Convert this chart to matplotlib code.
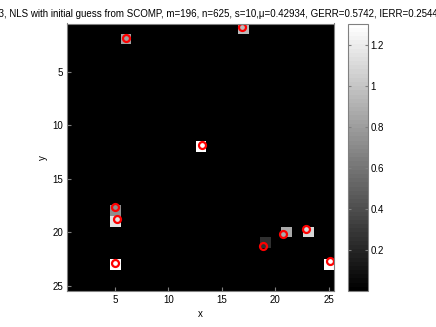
import numpy as np
import matplotlib
matplotlib.use("Agg")
import matplotlib.pyplot as plt
from matplotlib.colors import ListedColormap

plt.rcParams['font.family'] = ['Liberation Sans', 'DejaVu Sans']

# Recovered image cells (column, row, value)
cell_cols = [6, 17, 13, 5, 5, 5, 19, 21, 23, 25]
cell_rows = [2, 1, 12, 18, 19, 23, 21, 20, 20, 23]
cell_vals = [0.82, 0.95, 1.30, 0.73, 1.15, 1.30, 0.26, 0.86, 1.10, 1.30]

# True source positions (red circles)
true_x = [6.02, 16.9, 13.14, 5.03, 5.18, 4.96, 18.88, 20.72, 22.88, 25.13]
true_y = [1.9, 0.85, 11.86, 17.66, 18.76, 22.9, 21.29, 20.16, 19.72, 22.7]

n_side = 25
cbar_ticks = [0.2, 0.4, 0.6, 0.8, 1.0, 1.2]
cbar_labels = ['0.2', '0.4', '0.6', '0.8', '1', '1.2']
x_ticks = [5, 10, 15, 20, 25]
y_ticks = [5, 10, 15, 20, 25]
title = ("Sample 3, NLS with initial guess from SCOMP, m=196, n=625, s=10,\u03bc=0.42934, "
         "GERR=0.5742, IERR=0.2544")

img = np.zeros((n_side, n_side))
for c, r, v in zip(cell_cols, cell_rows, cell_vals):
    img[r - 1, c - 1] = v

cmap = ListedColormap(plt.get_cmap('gray')(np.linspace(0, 1, 64)))

fig = plt.figure(figsize=(4.36, 3.27), dpi=100)
ax = fig.add_axes([67/436, 36/327, 267/436, 267.5/327])
im = ax.imshow(img, cmap=cmap, vmin=0, vmax=1.305, extent=(0.5, 25.5, 25.5, 0.5),
               aspect='auto', interpolation='nearest')
ax.plot(true_x, true_y, 'o', mfc='none', mec='#ff0000', ms=5, mew=1.6)
ax.set_xlim(0.5, 25.5)
ax.set_ylim(25.5, 0.5)
ax.set_xticks(x_ticks)
ax.set_yticks(y_ticks)
ax.tick_params(direction='in', length=3, labelsize=7, color='#808080', pad=3)
for s in ax.spines.values():
    s.set_color('#808080')
    s.set_linewidth(0.8)
ax.set_xlabel('x', fontsize=7, labelpad=3)
ax.set_ylabel('y', fontsize=7, labelpad=3)
ax.set_title(title, fontsize=7, pad=5)

cax = fig.add_axes([348/436, 36/327, 20/436, 267.5/327])
cb = fig.colorbar(im, cax=cax, ticks=cbar_ticks)
cb.set_ticklabels(cbar_labels)
cb.outline.set_edgecolor('#808080')
cb.outline.set_linewidth(0.8)
cax.tick_params(direction='in', length=2.5, labelsize=7, color='#808080', left=True, right=True, pad=2)

fig.savefig('out.png', dpi=100)
